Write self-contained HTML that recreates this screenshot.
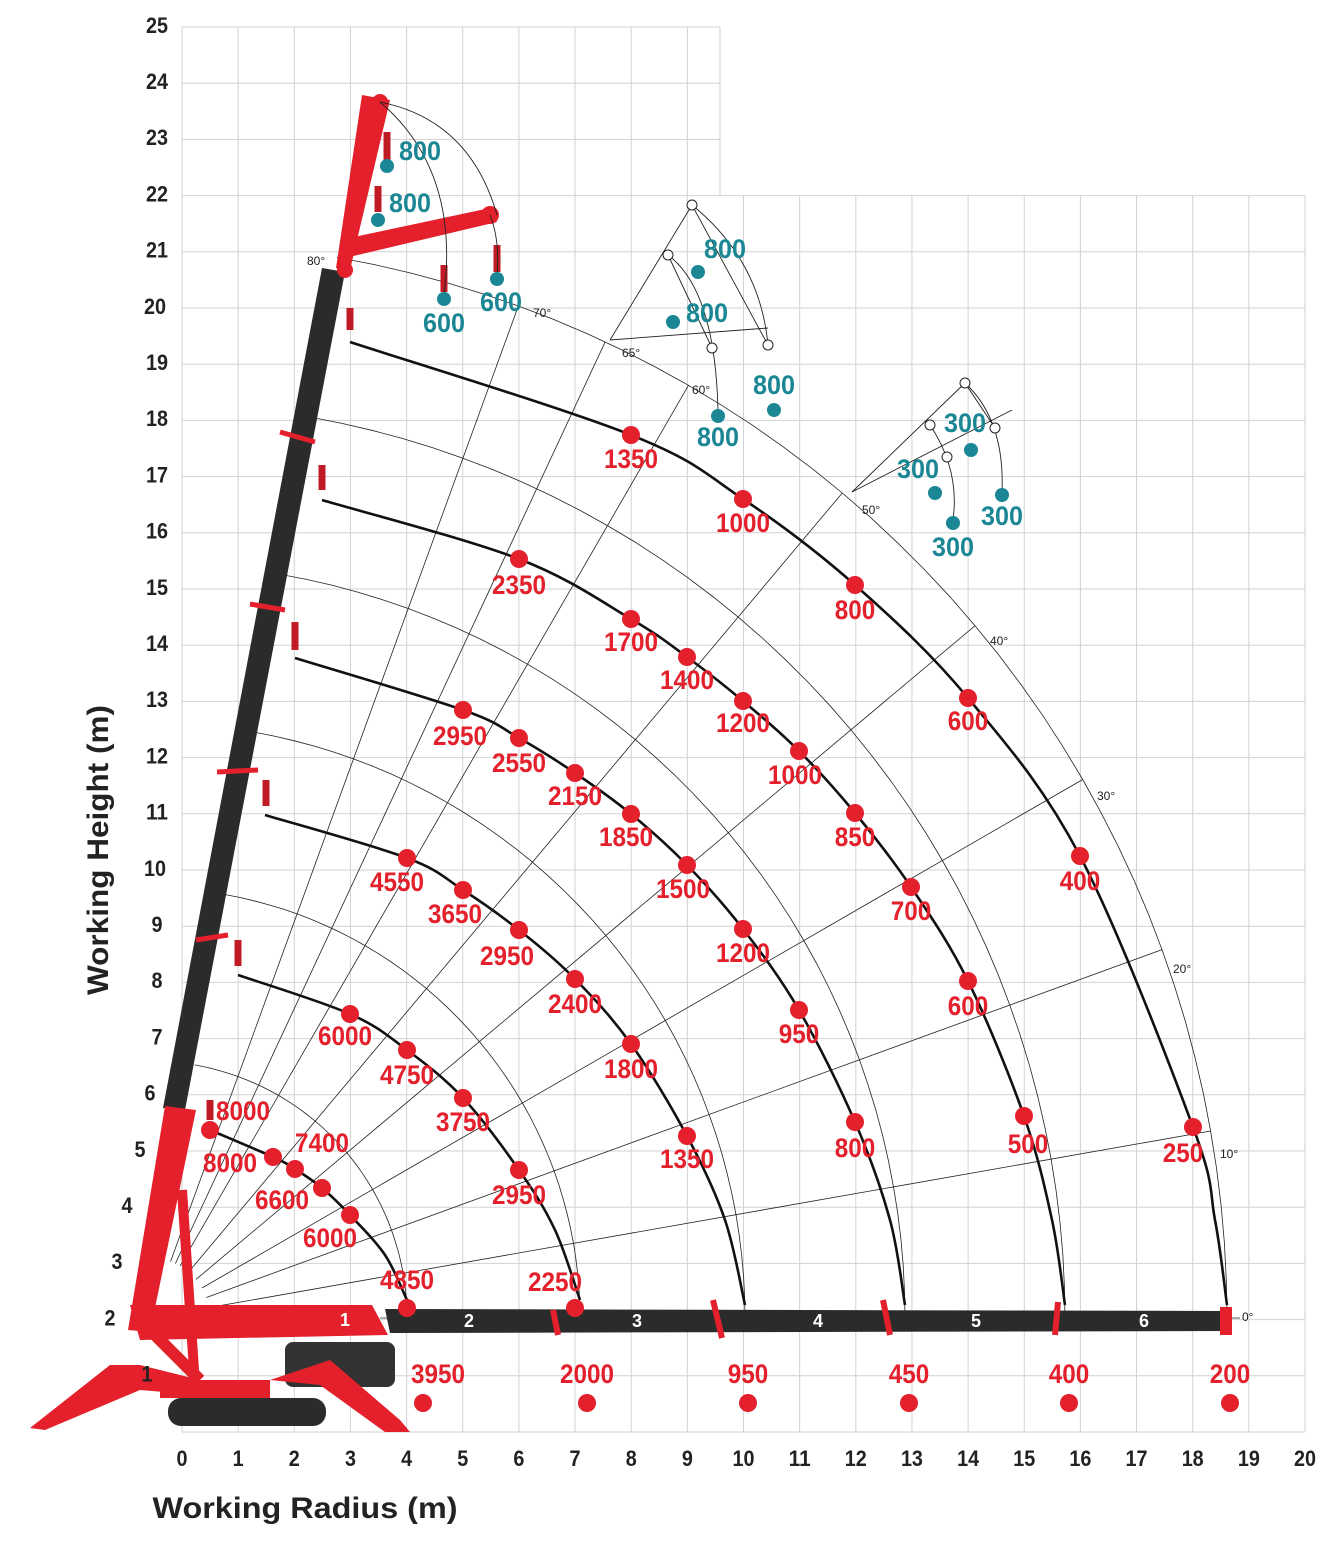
<!DOCTYPE html>
<html><head><meta charset="utf-8"><style>
html,body{margin:0;padding:0;background:#fff}
svg{display:block}
.r{font-family:"Liberation Sans Narrow","Liberation Sans",sans-serif;font-weight:bold;font-size:27px;fill:#e3202b;text-anchor:middle;dominant-baseline:middle}
.t{font-family:"Liberation Sans Narrow","Liberation Sans",sans-serif;font-weight:bold;font-size:27px;fill:#1b8795;text-anchor:middle;dominant-baseline:middle}
.ax{font-family:"Liberation Sans Narrow","Liberation Sans",sans-serif;font-weight:bold;font-size:22px;fill:#222;text-anchor:middle;dominant-baseline:middle}
.ang{font-family:"Liberation Sans",sans-serif;font-size:12px;fill:#222;dominant-baseline:middle}
.bn{font-family:"Liberation Sans",sans-serif;font-weight:bold;font-size:18px;fill:#fff;text-anchor:middle;dominant-baseline:middle}
</style></head><body>
<svg width="1342" height="1550" viewBox="0 0 1342 1550" xmlns="http://www.w3.org/2000/svg">
<g id="grid" stroke="#d2d2d2" stroke-width="1"></g>
<g id="arcs" fill="none" stroke="#222" stroke-width="0.8"></g>
<g id="loads" fill="none" stroke="#111" stroke-width="2.6" stroke-linejoin="round"></g>
<polygon points="163,1108 185,1110 345,272 322,268" fill="#2b2b2b"/>
<polygon points="128,1330 150,1332 196,1110 165,1106" fill="#e3202b"/>
<path d="M182,1190 L195,1385" stroke="#e3202b" stroke-width="10"/>
<path d="M150,1330 L200,1380" stroke="#e3202b" stroke-width="12"/>
<polygon points="130,1305 372,1305 388,1335 140,1340" fill="#e3202b"/>
<polygon points="385,1309 1225,1311 1225,1331 390,1333" fill="#2b2b2b"/>
<rect x="1220" y="1307" width="12" height="28" fill="#e3202b"/>
<text class="bn" x="345" y="1321">1</text><text class="bn" x="469" y="1322">2</text><text class="bn" x="637" y="1322">3</text><text class="bn" x="818" y="1322">4</text><text class="bn" x="976" y="1322">5</text><text class="bn" x="1144" y="1322">6</text>
<g stroke="#e3202b" stroke-width="6"><path d="M553,1310 L558,1335"/><path d="M713,1300 L722,1338"/><path d="M883,1300 L890,1335"/><path d="M1058,1302 L1055,1335"/></g>
<rect x="168" y="1398" width="158" height="28" rx="13" fill="#2b2b2b"/>
<rect x="285" y="1342" width="110" height="45" rx="8" fill="#333"/>
<polygon points="30,1428 110,1365 140,1365 200,1380 200,1395 140,1390 45,1430" fill="#e3202b"/>
<polygon points="270,1380 330,1360 400,1420 410,1432 385,1432 320,1385" fill="#e3202b"/>
<rect x="160" y="1380" width="110" height="18" fill="#e3202b"/>
<polygon points="336,268 362,95 390,100 350,270" fill="#e3202b"/>
<polygon points="340,240 490,208 497,222 345,258" fill="#e3202b"/>
<circle cx="380" cy="102" r="8" fill="#e3202b"/><circle cx="490" cy="215" r="9" fill="#e3202b"/><circle cx="345" cy="270" r="8" fill="#e3202b"/>
<g stroke="#c01a25" stroke-width="7"><path d="M387,132 L387,160"/><path d="M378,186 L378,212"/><path d="M444,265 L444,292"/><path d="M497,245 L497,272"/><path d="M350,308 L350,330"/><path d="M322,465 L322,490"/><path d="M295,622 L295,650"/><path d="M266,780 L266,806"/><path d="M238,940 L238,966"/><path d="M210,1100 L210,1120"/></g>
<g stroke="#e3202b" stroke-width="5"><path d="M280,432 L315,442"/><path d="M250,604 L285,610"/><path d="M217,772 L258,770"/><path d="M196,940 L228,935"/></g>
<g fill="none" stroke="#222" stroke-width="0.9">
<path d="M380,102 Q470,120 497,215"/><path d="M490,215 Q500,240 497,275"/><path d="M380,102 Q460,170 444,295"/>
<path d="M610,340 L692,205 L768,345"/><path d="M610,340 L768,328"/><path d="M668,255 Q715,290 718,410"/><path d="M692,205 Q760,260 768,345"/><path d="M668,255 L712,348"/>
<path d="M852,492 L965,383 L995,428"/><path d="M852,492 L1012,410"/><path d="M930,425 Q960,470 953,520"/><path d="M965,383 Q1005,420 1002,492"/>
</g>
<g fill="#fff" stroke="#222"><circle cx="692" cy="205" r="5"/><circle cx="668" cy="255" r="5"/><circle cx="712" cy="348" r="5"/><circle cx="768" cy="345" r="5"/><circle cx="965" cy="383" r="5"/><circle cx="930" cy="425" r="5"/><circle cx="947" cy="457" r="5"/><circle cx="995" cy="428" r="5"/></g>
<g id="dots" fill="#e3202b"></g>
<g id="tdots" fill="#1b8795"></g>
<text x="0" y="0" transform="translate(100,850) rotate(-90)" textLength="290" lengthAdjust="spacingAndGlyphs" style="font-family:'Liberation Sans',sans-serif;font-weight:bold;font-size:30px;fill:#222;text-anchor:middle;dominant-baseline:middle">Working Height (m)</text>
<text x="305" y="1510" textLength="305" lengthAdjust="spacingAndGlyphs" style="font-family:'Liberation Sans',sans-serif;font-weight:bold;font-size:30px;fill:#222;text-anchor:middle;dominant-baseline:middle">Working Radius (m)</text>
</svg>
<script>
var NS="http://www.w3.org/2000/svg";
var svg=document.querySelector('svg');
function el(p,t,a,txt){var e=document.createElementNS(NS,t);for(var k in a)e.setAttribute(k,a[k]);if(txt!==undefined)e.textContent=txt;(typeof p==='string'?document.getElementById(p):p).appendChild(e);return e;}
function X(v){return 182+v*56.15} function Y(v){return 1432-v*56.2}
for(var i=0;i<=20;i++){var x=X(i);el('grid','line',{x1:x,x2:x,y1:(x<=722?Y(25):Y(22)),y2:1432});}
for(var j=0;j<=25;j++){var y=Y(j);el('grid','line',{x1:182,x2:(j<=22?1305:720),y1:y,y2:y});}
el('grid','line',{x1:720,x2:720,y1:Y(25),y2:Y(22)});
for(var i=0;i<=20;i++)el(svg,'text',{class:'ax',x:X(i),y:1460,textLength:(i>=10?22:11),lengthAdjust:'spacingAndGlyphs'},String(i));
var yl={25:157,24:157,23:157,22:157,21:157,20:155,19:157,18:157,17:157,16:157,15:157,14:157,13:157,12:157,11:157,10:155,9:157,8:157,7:157,6:150,5:140,4:127,3:117,2:110,1:147};
for(var j=1;j<=25;j++)el(svg,'text',{class:'ax',x:yl[j],y:Y(j),textLength:(j>=10?22:11),lengthAdjust:'spacingAndGlyphs'},String(j));
var cx=150,cy=1318;
var ends=[407,580,745,905,1065,1227];
function arc(r,a0,a1){var d='';for(var a=a0;a<=a1+0.01;a+=2){var t=a*Math.PI/180;d+=(d?'L':'M')+(cx+r*Math.cos(t)).toFixed(1)+','+(cy-r*Math.sin(t)).toFixed(1);}return d;}
ends.forEach(function(e){el('arcs','path',{d:arc(e-cx,0,80)});});
[10,20,30,40,50,60,65,70].forEach(function(a){var t=a*Math.PI/180,r=1077;el('arcs','line',{x1:cx+60*Math.cos(t),y1:cy-60*Math.sin(t),x2:cx+r*Math.cos(t),y2:cy-r*Math.sin(t)});});
el('arcs','line',{x1:380,y1:1318,x2:1240,y2:1318});
[['0°',1242,1318],['10°',1220,1155],['20°',1173,970],['30°',1097,797],['40°',990,642],['50°',862,511],['60°',692,391],['65°',622,354],['70°',533,314],['80°',307,262]].forEach(function(l){el(svg,'text',{class:'ang',x:l[1],y:l[2]},l[0]);});
function smooth(p){var d='M'+p[0].join(',');for(var i=0;i<p.length-1;i++){var p0=p[i-1]||p[i],p1=p[i],p2=p[i+1],p3=p[i+2]||p2;
var c1=[p1[0]+(p2[0]-p0[0])/6,p1[1]+(p2[1]-p0[1])/6],c2=[p2[0]-(p3[0]-p1[0])/6,p2[1]-(p3[1]-p1[1])/6];
d+=' C'+c1.join(',')+' '+c2.join(',')+' '+p2.join(',');}return d;}
var curves=[
[[210,1130],[273,1157],[295,1169],[322,1188],[350,1215],[385,1255],[407,1300]],
[[238,975],[350,1014],[407,1050],[463,1098],[519,1170],[555,1230],[580,1300]],
[[265,815],[407,858],[463,890],[519,930],[575,979],[631,1044],[687,1136],[725,1220],[745,1305]],
[[295,658],[463,710],[519,738],[575,773],[631,814],[687,865],[743,929],[799,1010],[855,1122],[890,1220],[905,1305]],
[[322,500],[519,559],[631,619],[687,657],[743,701],[799,751],[855,813],[911,887],[968,981],[1024,1116],[1052,1220],[1065,1305]],
[[350,342],[631,435],[743,499],[855,585],[968,698],[1080,856],[1193,1127],[1215,1220],[1227,1305]]];
curves.forEach(function(c){el('loads','path',{d:smooth(c)});});
var dots=[[210,1130],[273,1157],[295,1169],[322,1188],[350,1215],[407,1308],[575,1308],[350,1014],[407,1050],[463,1098],[519,1170],[407,858],[463,890],[519,930],[575,979],[631,1044],[687,1136],[463,710],[519,738],[575,773],[631,814],[687,865],[743,929],[799,1010],[855,1122],[519,559],[631,619],[687,657],[743,701],[799,751],[855,813],[911,887],[968,981],[1024,1116],[631,435],[743,499],[855,585],[968,698],[1080,856],[1193,1127],[423,1403],[587,1403],[748,1403],[909,1403],[1069,1403],[1230,1403]];
dots.forEach(function(d){el('dots','circle',{cx:d[0],cy:d[1],r:9});});
var labs=[['8000',243,1113],['8000',230,1165],['7400',322,1145],['6600',282,1202],['6000',330,1240],['4850',407,1282],['2250',555,1284],['6000',345,1038],['4750',407,1077],['3750',463,1124],['2950',519,1197],['4550',397,884],['3650',455,916],['2950',507,958],['2400',575,1006],['1800',631,1071],['1350',687,1161],['2950',460,738],['2550',519,765],['2150',575,798],['1850',626,839],['1500',683,891],['1200',743,955],['950',799,1036],['800',855,1150],['2350',519,587],['1700',631,644],['1400',687,682],['1200',743,725],['1000',795,777],['850',855,839],['700',911,913],['600',968,1008],['500',1028,1146],['1350',631,461],['1000',743,525],['800',855,612],['600',968,723],['400',1080,883],['250',1183,1155],['3950',438,1376],['2000',587,1376],['950',748,1376],['450',909,1376],['400',1069,1376],['200',1230,1376]];
labs.forEach(function(l){el(svg,'text',{class:'r',x:l[1],y:l[2],textLength:l[0].length*13.5,lengthAdjust:'spacingAndGlyphs'},l[0]);});
var td=[[387,166],[378,220],[444,299],[497,279],[698,272],[673,322],[718,416],[774,410],[971,450],[935,493],[953,523],[1002,495]];
td.forEach(function(d){el('tdots','circle',{cx:d[0],cy:d[1],r:7});});
var tl=[['800',420,153],['800',410,205],['600',444,325],['600',501,304],['800',725,251],['800',707,315],['800',718,439],['800',774,387],['300',965,425],['300',918,471],['300',953,549],['300',1002,518]];
tl.forEach(function(l){el(svg,'text',{class:'t',x:l[1],y:l[2],textLength:l[0].length*14,lengthAdjust:'spacingAndGlyphs'},l[0]);});
</script>
</body></html>
